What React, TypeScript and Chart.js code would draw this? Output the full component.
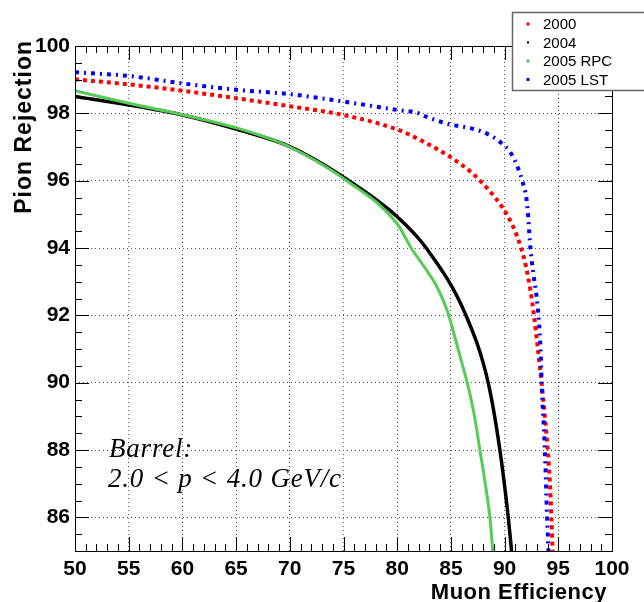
import { useEffect, useRef } from "react";
import { Chart, registerables } from "chart.js";

Chart.register(...registerables);

// ---------- data ----------
const seriesLabels = ["2000", "2004", "2005 RPC", "2005 LST"];

const eff2000 = [50, 55, 60, 65, 70, 75, 80, 82.5, 85, 87, 88.5, 89.8, 90.8, 91.5, 92.0, 92.4, 92.75, 93.1, 93.45, 93.75, 94.02, 94.22, 94.36, 94.47];
const rej2000 = [99.01, 98.86, 98.67, 98.45, 98.21, 97.95, 97.52, 97.15, 96.69, 96.22, 95.73, 95.2, 94.63, 94.04, 93.44, 92.75, 91.96, 91.0, 89.98, 89.0, 88.0, 87.0, 86.0, 85.0];

const eff2004 = [50, 55, 60, 65, 70, 75.5, 80, 82.7, 86.4, 88.47, 89.56, 90.34, 90.65];
const rej2004 = [98.5, 98.25, 97.95, 97.53, 97.01, 96.0, 94.93, 94.0, 92.0, 90.0, 88.0, 86.0, 85.0];

const effRPC = [50, 55, 60, 65, 70, 75.3, 80, 81.3, 82.5, 83.7, 84.7, 85.5, 86.1, 86.6, 87.2, 87.7, 88.2, 88.63, 88.9];
const rejRPC = [98.67, 98.3, 97.96, 97.57, 97.0, 96.0, 94.72, 94.0, 93.45, 92.85, 92.1, 91.2, 90.5, 89.9, 89.0, 88.0, 87.0, 86.0, 85.0];

const effLST = [50, 55, 60, 65, 70, 75, 80, 81.8, 82.7, 85.06, 86.5, 87.7, 88.8, 89.7, 90.5, 91.0, 91.64, 92.05, 92.2, 92.3, 92.42, 92.67, 92.98, 93.2, 93.35, 93.45, 93.75, 93.96, 94.08];
const rejLST = [99.22, 99.11, 98.89, 98.7, 98.57, 98.35, 98.1, 98.02, 97.9, 97.66, 97.58, 97.48, 97.32, 97.12, 96.86, 96.56, 96.0, 95.43, 94.93, 94.44, 93.94, 93.25, 92.55, 91.8, 91.0, 90.0, 88.0, 86.0, 85.0];

const xMin = 50, xMax = 100, xMajorStep = 5, xMinorStep = 1;
const yMin = 85, yMax = 100, yMajorStep = 2, yMinorStep = 0.5;

const xTitle = "Muon Efficiency";
const yTitle = "Pion Rejection";
const noteLine1 = "Barrel:";
const noteLine2 = "2.0 < p < 4.0 GeV/c";

const SANS = "'Liberation Sans', Arial, Helvetica, sans-serif";
const SERIF = "'Liberation Serif', 'Times New Roman', serif";

const toPoints = (xs: number[], ys: number[]) => xs.map((x, i) => ({ x, y: ys[i] }));

const framePlugin = {
  id: "frameTicks",
  afterDatasetsDraw(chart: any) {
    const { ctx, chartArea: a, scales } = chart;
    const xs = scales.x, ys = scales.y;
    ctx.save();
    ctx.strokeStyle = "#000";
    ctx.lineWidth = 1;
    ctx.beginPath();
    const nx = Math.round((xMax - xMin) / xMinorStep);
    for (let i = 0; i <= nx; i++) {
      const v = xMin + i * xMinorStep;
      const px = Math.round(xs.getPixelForValue(v)) + 0.5;
      const q = (v - xMin) / xMajorStep;
      const major = Math.abs(q - Math.round(q)) < 1e-6;
      const len = major ? 14 : 7;
      ctx.moveTo(px, a.bottom); ctx.lineTo(px, a.bottom - len);
      ctx.moveTo(px, a.top); ctx.lineTo(px, a.top + len);
    }
    const ny = Math.round((yMax - yMin) / yMinorStep);
    for (let i = 0; i <= ny; i++) {
      const v = yMin + i * yMinorStep;
      const py = Math.round(ys.getPixelForValue(v)) + 0.5;
      const q = v / yMajorStep;
      const major = Math.abs(q - Math.round(q)) < 1e-6;
      const len = major ? 14 : 7;
      ctx.moveTo(a.left, py); ctx.lineTo(a.left + len, py);
      ctx.moveTo(a.right, py); ctx.lineTo(a.right - len, py);
    }
    ctx.stroke();
    ctx.strokeRect(Math.round(a.left) + 0.5, Math.round(a.top) + 0.5, Math.round(a.right - a.left), Math.round(a.bottom - a.top));

    // annotation text
    ctx.fillStyle = "#000";
    ctx.font = `italic 27px ${SERIF}`;
    (ctx as any).letterSpacing = "0.8px";
    ctx.textAlign = "left";
    ctx.textBaseline = "alphabetic";
    ctx.fillText(noteLine1, 109, 457);
    ctx.fillText(noteLine2, 108, 487);

    // axis titles
    ctx.font = `bold 22px ${SANS}`;
    (ctx as any).letterSpacing = "0.5px";
    ctx.textAlign = "right";
    ctx.fillText(xTitle, 607, 599);
    ctx.save();
    ctx.translate(31, 40);
    ctx.rotate(-Math.PI / 2);
    ctx.font = `bold 23px ${SANS}`;
    (ctx as any).letterSpacing = "1px";
    ctx.textAlign = "right";
    ctx.fillText(yTitle, 0, 0);
    ctx.restore();
    (ctx as any).letterSpacing = "0px";

    // legend
    const bx = 512.5, by = 12.5, bw = 140, bh = 78;
    ctx.fillStyle = "#fff";
    ctx.fillRect(bx, by, bw, bh);
    ctx.strokeStyle = "#666";
    ctx.lineWidth = 1.5;
    ctx.strokeRect(bx, by, bw, bh);
    ctx.font = `15px ${SANS}`;
    ctx.textAlign = "left";
    ctx.textBaseline = "middle";
    chart.data.datasets.forEach((ds: any, i: number) => {
      const cy = 24 + i * 18.5;
      const s = ds.borderColor === "#000000" ? 2 : 3;
      ctx.fillStyle = ds.borderColor;
      ctx.fillRect(528 - s / 2, cy - s / 2, s, s);
      ctx.fillStyle = "#000";
      ctx.fillText(ds.label, 543, cy + 1);
    });
    ctx.restore();
  },
};

export default function App() {
  const ref = useRef<HTMLCanvasElement | null>(null);
  useEffect(() => {
    if (!ref.current) return;
    const chart = new Chart(ref.current, {
      type: "line",
      data: {
        datasets: [
          { label: seriesLabels[0], data: toPoints(eff2000, rej2000), borderColor: "#ff0000", borderWidth: 4, borderDash: [4, 4], order: 4 },
          { label: seriesLabels[1], data: toPoints(eff2004, rej2004), borderColor: "#000000", borderWidth: 3.5, order: 3 },
          { label: seriesLabels[2], data: toPoints(effRPC, rejRPC), borderColor: "#55cc55", borderWidth: 3, order: 2 },
          { label: seriesLabels[3], data: toPoints(effLST, rejLST), borderColor: "#0000ff", borderWidth: 4, borderDash: [4, 5, 2, 5], order: 1 },
        ].map((d) => ({ ...d, pointRadius: 0, fill: false, cubicInterpolationMode: "monotone" as const, clip: 0 })),
      },
      options: {
        animation: false,
        responsive: false,
        devicePixelRatio: 1,
        layout: { padding: { top: 46, right: 32, left: 0, bottom: 0 } },
        plugins: { legend: { display: false }, tooltip: { enabled: false } },
        scales: {
          x: {
            type: "linear",
            min: xMin,
            max: xMax,
            afterFit: (s: any) => { s.height = 51; },
            ticks: { stepSize: xMajorStep, autoSkip: false, maxRotation: 0, color: "#000", padding: 6, font: { family: SANS, size: 21, weight: "bold" } },
            grid: { drawTicks: false, color: "#555", lineWidth: 1, tickLength: 0 },
            border: { display: false, dash: [1, 3] },
            title: { display: false },
          },
          y: {
            type: "linear",
            min: yMin,
            max: yMax,
            afterFit: (s: any) => { s.width = 75; },
            ticks: { stepSize: yMajorStep, includeBounds: false, autoSkip: false, color: "#000", padding: 5, font: { family: SANS, size: 21, weight: "bold" } },
            grid: { drawTicks: false, color: "#555", lineWidth: 1, tickLength: 0 },
            border: { display: false, dash: [1, 3] },
            title: { display: false },
          },
        },
      },
      plugins: [framePlugin],
    } as any);
    return () => chart.destroy();
  }, []);
  return (
    <div style={{ position: "absolute", left: 0, top: 0, width: 644, height: 602, background: "#fff" }}>
      <canvas ref={ref} width={644} height={602} style={{ width: 644, height: 602, display: "block" }} />
    </div>
  );
}
